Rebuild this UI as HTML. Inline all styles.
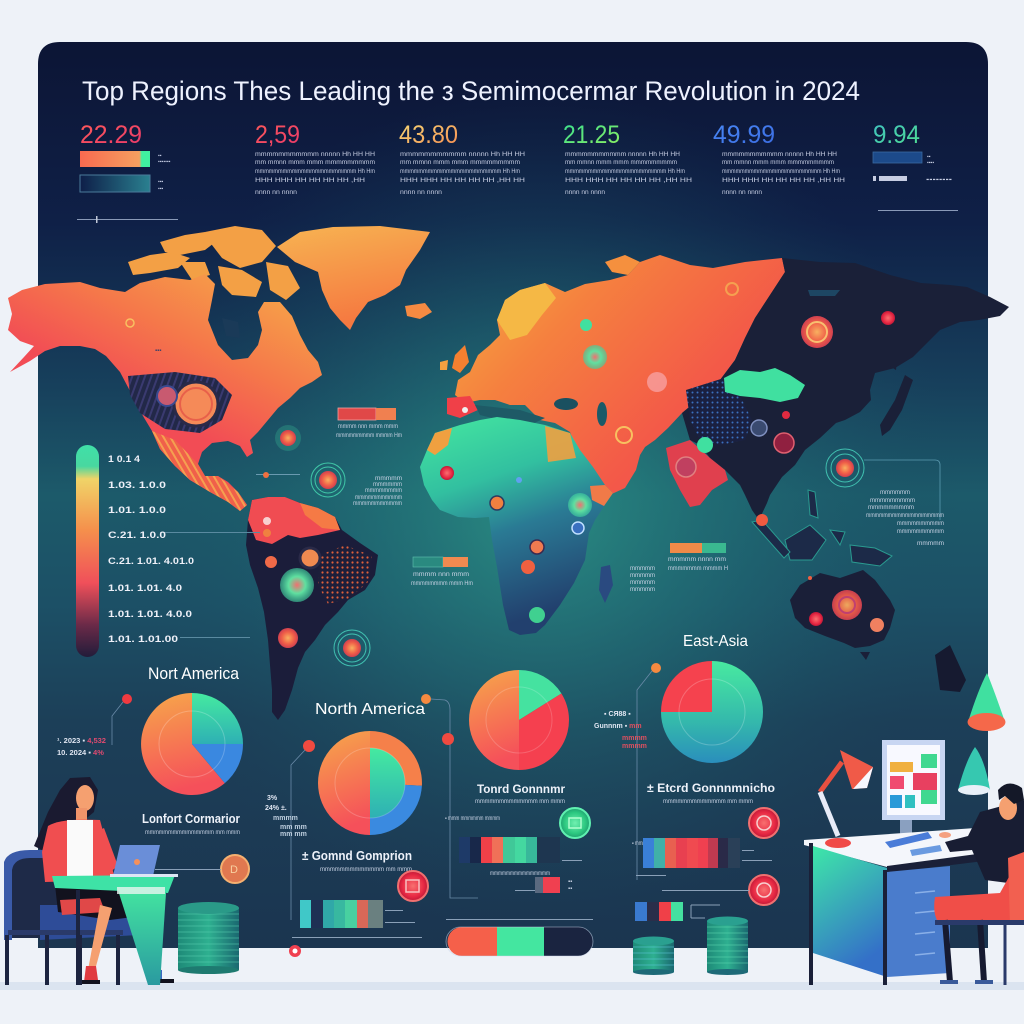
<!DOCTYPE html>
<html><head><meta charset="utf-8">
<style>
html,body{margin:0;padding:0;background:#eef2f8;width:1024px;height:1024px;overflow:hidden}
svg{display:block}
text{font-family:"Liberation Sans",sans-serif}
</style></head><body>
<svg width="1024" height="1024" viewBox="0 0 1024 1024" xmlns="http://www.w3.org/2000/svg">
<defs>
<linearGradient id="pbg" x1="0" y1="0" x2="0" y2="1">
<stop offset="0" stop-color="#0c1535"/>
<stop offset="0.2" stop-color="#0f2047"/>
<stop offset="0.38" stop-color="#17405c"/>
<stop offset="0.5" stop-color="#1c5a6a"/>
<stop offset="0.62" stop-color="#1c5066"/>
<stop offset="0.75" stop-color="#1c3f58"/>
<stop offset="1" stop-color="#1b3550"/>
</linearGradient>
<radialGradient id="glow" cx="540" cy="510" r="420" gradientUnits="userSpaceOnUse">
<stop offset="0" stop-color="#2fa08c" stop-opacity="0.75"/>
<stop offset="0.45" stop-color="#237a7c" stop-opacity="0.45"/>
<stop offset="1" stop-color="#1a4a60" stop-opacity="0"/>
</radialGradient>
<linearGradient id="na" x1="0.85" y1="0" x2="0.25" y2="0.9">
<stop offset="0" stop-color="#f6a848"/>
<stop offset="0.35" stop-color="#f5784a"/>
<stop offset="0.65" stop-color="#f24c55"/>
<stop offset="1" stop-color="#f04a55"/>
</linearGradient>
<linearGradient id="gl" x1="0" y1="0" x2="0.3" y2="1">
<stop offset="0" stop-color="#f7b452"/>
<stop offset="1" stop-color="#f57840"/>
</linearGradient>
<linearGradient id="eu" x1="0" y1="0" x2="1" y2="0.7">
<stop offset="0" stop-color="#f5b040"/>
<stop offset="0.35" stop-color="#f5803f"/>
<stop offset="0.75" stop-color="#f35a48"/>
<stop offset="1" stop-color="#f24852"/>
</linearGradient>
<linearGradient id="af" x1="0" y1="0" x2="0.3" y2="1">
<stop offset="0" stop-color="#45e8a0"/>
<stop offset="0.35" stop-color="#32c0a0"/>
<stop offset="0.6" stop-color="#2a7a94"/>
<stop offset="1" stop-color="#22406e"/>
</linearGradient>
<linearGradient id="leg" x1="0" y1="0" x2="0" y2="1">
<stop offset="0" stop-color="#40e0a8"/>
<stop offset="0.1" stop-color="#48d8a0"/>
<stop offset="0.16" stop-color="#f0d468"/>
<stop offset="0.4" stop-color="#f5904c"/>
<stop offset="0.65" stop-color="#f0505a"/>
<stop offset="0.85" stop-color="#6a2a48"/>
<stop offset="1" stop-color="#221c3a"/>
</linearGradient>
<linearGradient id="og" x1="0" y1="0" x2="0.2" y2="1">
<stop offset="0" stop-color="#f7a84a"/>
<stop offset="1" stop-color="#f5505a"/>
</linearGradient>
<linearGradient id="gg" x1="0" y1="0" x2="0" y2="1">
<stop offset="0" stop-color="#45eaa0"/>
<stop offset="1" stop-color="#2eb0b4"/>
</linearGradient>
<linearGradient id="gg4" x1="0" y1="0" x2="0" y2="1">
<stop offset="0" stop-color="#48eaa0"/>
<stop offset="0.6" stop-color="#34b8ac"/>
<stop offset="1" stop-color="#2a8ebc"/>
</linearGradient>
<linearGradient id="bar1" x1="0" y1="0" x2="1" y2="0">
<stop offset="0" stop-color="#f86a50"/>
<stop offset="0.85" stop-color="#f5a060"/>
<stop offset="0.88" stop-color="#40f0a0"/>
<stop offset="1" stop-color="#40f0a0"/>
</linearGradient>
<linearGradient id="bar2" x1="0" y1="0" x2="1" y2="0">
<stop offset="0" stop-color="#0e1e48"/>
<stop offset="1" stop-color="#2a8090"/>
</linearGradient>
<linearGradient id="n1" x1="0" y1="0" x2="1" y2="1"><stop offset="0" stop-color="#ff5a5a"/><stop offset="1" stop-color="#e8386a"/></linearGradient>
<linearGradient id="n3" x1="0" y1="0" x2="1" y2="1"><stop offset="0" stop-color="#f8dc78"/><stop offset="1" stop-color="#f58a50"/></linearGradient>
<linearGradient id="n4" x1="0" y1="0" x2="1" y2="1"><stop offset="0" stop-color="#38e090"/><stop offset="1" stop-color="#90f060"/></linearGradient>
<linearGradient id="n5" x1="0" y1="0" x2="1" y2="1"><stop offset="0" stop-color="#4a8af8"/><stop offset="1" stop-color="#3a6ae0"/></linearGradient>
<linearGradient id="n6" x1="0" y1="0" x2="1" y2="1"><stop offset="0" stop-color="#40c0c0"/><stop offset="1" stop-color="#50e090"/></linearGradient>
<radialGradient id="mk" cx="0.5" cy="0.5" r="0.5">
<stop offset="0" stop-color="#f8b060"/><stop offset="0.6" stop-color="#f06048"/><stop offset="1" stop-color="#d04050"/>
</radialGradient>
<radialGradient id="mkg" cx="0.5" cy="0.5" r="0.5">
<stop offset="0" stop-color="#f07070"/><stop offset="0.5" stop-color="#60e0a0"/><stop offset="1" stop-color="#40d0a0" stop-opacity="0.6"/>
</radialGradient>
<radialGradient id="mkr" cx="0.5" cy="0.5" r="0.5">
<stop offset="0" stop-color="#f87070"/><stop offset="0.7" stop-color="#e82a44"/><stop offset="1" stop-color="#c01838"/>
</radialGradient>
<radialGradient id="mkgr" cx="0.5" cy="0.5" r="0.5">
<stop offset="0" stop-color="#70f0b0"/><stop offset="0.7" stop-color="#2cc880"/><stop offset="1" stop-color="#20a070"/>
</radialGradient>
<linearGradient id="deskg" x1="0" y1="0" x2="0.4" y2="1">
<stop offset="0" stop-color="#3ee8a8"/><stop offset="1" stop-color="#3470c8"/>
</linearGradient>
<linearGradient id="deskl" x1="0" y1="0" x2="0" y2="1">
<stop offset="0" stop-color="#44e6a0"/><stop offset="1" stop-color="#2a9aa0"/>
</linearGradient>
<linearGradient id="coin" x1="0" y1="0" x2="1" y2="0">
<stop offset="0" stop-color="#1e8a78"/><stop offset="0.5" stop-color="#2eb090"/><stop offset="1" stop-color="#1a6870"/>
</linearGradient>
<pattern id="dots" width="5" height="5" patternUnits="userSpaceOnUse">
<rect width="5" height="5" fill="#1c1e3a"/><circle cx="2.5" cy="2.5" r="1.1" fill="#e0603a"/>
</pattern>
<pattern id="bdots" width="5" height="5" patternUnits="userSpaceOnUse">
<rect width="5" height="5" fill="#1a2040"/><circle cx="2.5" cy="2.5" r="1" fill="#3a70c0"/>
</pattern>
<pattern id="stripes" width="6" height="6" patternUnits="userSpaceOnUse" patternTransform="rotate(20)">
<rect width="6" height="6" fill="#222848"/><rect width="2" height="6" fill="#3a3a70"/>
</pattern>
<pattern id="ostr" width="6" height="6" patternUnits="userSpaceOnUse" patternTransform="rotate(-30)">
<rect width="6" height="6" fill="#f0604a"/><rect width="2" height="6" fill="#f5a050"/>
</pattern>
</defs>

<!-- page bg -->
<rect x="0" y="0" width="1024" height="1024" fill="#eef2f8"/>
<rect x="0" y="982" width="1024" height="8" fill="#dbe4f0"/>

<!-- panel -->
<path d="M38,948 L38,64 Q38,42 60,42 L966,42 Q988,42 988,64 L988,948 Z" fill="url(#pbg)"/>
<path d="M38,948 L38,64 Q38,42 60,42 L966,42 Q988,42 988,64 L988,948 Z" fill="url(#glow)"/>

<!-- title -->
<text x="82" y="100" font-size="27" fill="#eef2ff" textLength="778" lengthAdjust="spacingAndGlyphs">Top Regions Thes Leading the з Semimocermar Revolution in 2024</text>

<!-- stats -->
<text x="80" y="143" font-size="25" fill="url(#n1)" textLength="62" lengthAdjust="spacingAndGlyphs">22.29</text>
<rect x="80" y="151" width="70" height="16" fill="url(#bar1)"/>
<rect x="80" y="175" width="70" height="17" fill="url(#bar2)" stroke="#4a7a9a" stroke-width="1"/>
<text x="158" y="157" font-size="5" fill="#c0c8e0">▪▪</text>
<text x="158" y="163" font-size="5" fill="#c0c8e0">▪▪▪▪▪▪▪</text>
<text x="158" y="183" font-size="5" fill="#c0c8e0">▪▪▪</text>
<text x="158" y="190" font-size="5" fill="#c0c8e0">▪▪▪</text>

<g font-size="6.5" fill="#c6cde2">
<text x="255" y="143" font-size="25" fill="url(#n1)" textLength="45" lengthAdjust="spacingAndGlyphs">2,59</text>
<text x="255" y="156" textLength="120" lengthAdjust="spacingAndGlyphs">mmmmmmmmmmm nnnnn Hh HH HH</text>
<text x="255" y="164" textLength="120" lengthAdjust="spacingAndGlyphs">mm mmnn mmm mmm mmmmmmmmm</text>
<text x="255" y="173" textLength="120" lengthAdjust="spacingAndGlyphs">mmmmmmmmmmmmmmmmmmmmmm Hh Hm</text>
<text x="255" y="182" textLength="110" lengthAdjust="spacingAndGlyphs">HHH HHH HH HH HH HH ,HH</text>
<text x="255" y="194" textLength="42" lengthAdjust="spacingAndGlyphs">nnnn nn nnnn</text>

<text x="399" y="143" font-size="25" fill="url(#n3)" textLength="59" lengthAdjust="spacingAndGlyphs">43.80</text>
<text x="400" y="156" textLength="125" lengthAdjust="spacingAndGlyphs">mmmmmmmmmmm nnnnn Hh HH HH</text>
<text x="400" y="164" textLength="120" lengthAdjust="spacingAndGlyphs">mm mmnn mmm mmm mmmmmmmmm</text>
<text x="400" y="173" textLength="120" lengthAdjust="spacingAndGlyphs">mmmmmmmmmmmmmmmmmmmmmm Hh Hm</text>
<text x="400" y="182" textLength="125" lengthAdjust="spacingAndGlyphs">HHH HHH HH HH HH HH ,HH HH</text>
<text x="400" y="194" textLength="42" lengthAdjust="spacingAndGlyphs">nnnn nn nnnn</text>

<text x="563" y="143" font-size="25" fill="url(#n4)" textLength="57" lengthAdjust="spacingAndGlyphs">21.25</text>
<text x="565" y="156" textLength="115" lengthAdjust="spacingAndGlyphs">mmmmmmmmmmm nnnnn Hh HH HH</text>
<text x="565" y="164" textLength="112" lengthAdjust="spacingAndGlyphs">mm mmnn mmm mmm mmmmmmmmm</text>
<text x="565" y="173" textLength="120" lengthAdjust="spacingAndGlyphs">mmmmmmmmmmmmmmmmmmmmmm Hh Hm</text>
<text x="565" y="182" textLength="127" lengthAdjust="spacingAndGlyphs">HHH HHH HH HH HH HH ,HH HH</text>
<text x="565" y="194" textLength="40" lengthAdjust="spacingAndGlyphs">nnnn nn nnnn</text>

<text x="713" y="143" font-size="25" fill="url(#n5)" textLength="62" lengthAdjust="spacingAndGlyphs">49.99</text>
<text x="722" y="156" textLength="115" lengthAdjust="spacingAndGlyphs">mmmmmmmmmmm nnnnn Hh HH HH</text>
<text x="722" y="164" textLength="112" lengthAdjust="spacingAndGlyphs">mm mmnn mmm mmm mmmmmmmmm</text>
<text x="722" y="173" textLength="118" lengthAdjust="spacingAndGlyphs">mmmmmmmmmmmmmmmmmmmmmm Hh Hm</text>
<text x="722" y="182" textLength="123" lengthAdjust="spacingAndGlyphs">HHH HHH HH HH HH HH ,HH HH</text>
<text x="722" y="194" textLength="40" lengthAdjust="spacingAndGlyphs">nnnn nn nnnn</text>

<text x="873" y="143" font-size="25" fill="url(#n6)" textLength="47" lengthAdjust="spacingAndGlyphs">9.94</text>
<rect x="873" y="152" width="49" height="11" fill="#1c4a8a" stroke="#3a6aa0" stroke-width="0.8"/>
<rect x="873" y="176" width="3" height="5" fill="#c6cde2"/>
<rect x="879" y="176" width="28" height="5" fill="#c6cde2"/>
<text x="927" y="158" font-size="5">▪▪</text>
<text x="927" y="164" font-size="5">▪▪▪▪</text>
<text x="926" y="181" font-size="5" textLength="26" lengthAdjust="spacingAndGlyphs">▪▪▪▪▪▪▪▪</text>
</g>
<rect x="77" y="219" width="101" height="1" fill="#8a9ab8"/>
<rect x="96" y="216" width="1.5" height="7" fill="#c0c8d8"/>
<rect x="878" y="210" width="80" height="1" fill="#8a9ab8"/>

<!-- ===== MAP ===== -->
<!-- Canadian arctic islands -->
<g fill="#f3a045">
<path d="M128,262 L150,255 L172,252 L190,258 L178,268 L150,273 L133,275 Z"/>
<path d="M160,242 L185,235 L205,232 L218,240 L205,250 L180,255 L165,252 Z"/>
<path d="M205,232 L235,226 L262,230 L276,246 L262,262 L240,268 L222,258 L212,245 Z"/>
<path d="M218,266 L242,270 L262,282 L256,297 L232,295 L222,285 Z"/>
<path d="M266,262 L288,266 L300,288 L286,300 L270,290 Z"/>
<path d="M180,262 L205,262 L210,275 L192,280 Z"/>
</g>
<!-- North America -->
<path d="M8,298 L22,290 L45,284 L80,282 L100,288 L125,292 L140,283 L165,277 L190,280 L205,274 L215,284 L212,300 L208,320 L218,345 L232,360 L248,358 L258,345 L262,330 L258,312 L264,302 L280,302 L292,316 L300,335 L308,350 L318,362 L322,375 L312,382 L300,388 L290,398 L278,408 L268,420 L258,432 L250,440 L253,453 L247,457 L240,446 L228,441 L212,443 L202,452 L198,464 L205,476 L218,476 L228,482 L238,492 L247,505 L240,511 L228,502 L210,492 L190,480 L175,466 L160,449 L152,431 L140,411 L130,391 L120,372 L106,356 L95,349 L80,346 L60,346 L45,351 L30,361 L10,372 L24,357 L34,346 L20,341 L8,330 L12,314 Z" fill="url(#na)"/>
<!-- Hudson bay islands -->
<path d="M222,318 L238,322 L240,338 L226,336 Z" fill="#1a3a58"/>
<!-- US dark patterned patch -->
<path d="M128,376 L175,372 L215,378 L232,395 L222,420 L200,433 L165,429 L140,413 L130,395 Z" fill="url(#stripes)"/>
<circle cx="196" cy="404" r="22" fill="#f58a58" stroke="#2a2a48" stroke-width="3"/>
<circle cx="196" cy="404" r="16" fill="none" stroke="#e8604a" stroke-width="2"/>
<circle cx="167" cy="396" r="10" fill="#c85a70" stroke="#3a4a90" stroke-width="2"/>
<!-- Mexico stripes -->
<path d="M152,431 L175,440 L198,464 L205,476 L218,476 L238,492 L247,505 L240,511 L228,502 L210,492 L190,480 L175,466 L160,449 Z" fill="url(#ostr)"/>
<circle cx="130" cy="323" r="4" fill="none" stroke="#f8c060" stroke-width="1.5"/>
<text x="155" y="352" font-size="6" fill="#40406a">▪▪▪</text>
<!-- Greenland -->
<path d="M277,247 L300,232 L333,227 L380,226 L430,232 L420,250 L406,270 L400,285 L385,295 L368,302 L356,318 L350,330 L340,320 L330,308 L322,290 L318,272 L295,262 Z" fill="url(#gl)"/>
<path d="M405,306 L425,303 L432,312 L420,319 L407,316 Z" fill="#f58a42"/>

<!-- South America -->
<path d="M252,500 L268,497 L285,497 L300,503 L318,508 L335,517 L342,530 L360,543 L378,555 L375,575 L365,590 L348,600 L338,612 L325,625 L315,640 L305,652 L298,668 L292,690 L285,710 L278,720 L272,712 L272,690 L270,665 L268,640 L264,612 L258,588 L250,565 L246,545 L248,520 Z" fill="#1b1d3a"/>
<path d="M320,555 L345,545 L372,556 L368,582 L350,598 L328,604 L318,585 Z" fill="url(#dots)"/>
<path d="M252,500 L268,497 L285,497 L300,503 L318,508 L335,517 L340,530 L318,535 L300,538 L288,535 L272,544 L256,540 L248,520 Z" fill="#f04c52"/>
<path d="M300,503 L318,508 L335,517 L340,530 L322,528 L305,515 Z" fill="#f57a45"/>
<circle cx="310" cy="558" r="10" fill="#f08a50" stroke="#2a2a48" stroke-width="3"/>
<circle cx="271" cy="562" r="6" fill="#f06a48"/>
<circle cx="297" cy="585" r="17" fill="url(#mkg)"/>
<circle cx="288" cy="638" r="10" fill="url(#mk)"/>
<circle cx="267" cy="521" r="4" fill="#f8d0d0"/>
<g fill="none" stroke="#40c0b0" stroke-width="1">
<circle cx="352" cy="648" r="18"/><circle cx="352" cy="648" r="14"/>
</g>
<circle cx="352" cy="648" r="9" fill="url(#mk)"/>

<!-- Eurasia -->
<path d="M470,372 L478,355 L490,345 L500,335 L497,320 L505,300 L520,290 L545,283 L565,292 L585,284 L610,280 L628,275 L640,262 L660,255 L690,265 L713,268 L745,262 L782,258 L785,272 L770,295 L755,318 L745,338 L735,360 L720,380 L700,398 L682,413 L668,428 L655,440 L645,447 L640,455 L636,470 L625,488 L605,497 L590,485 L580,465 L575,445 L570,432 L555,423 L540,420 L525,405 L510,405 L495,400 L480,400 L465,403 L455,395 L458,380 Z" fill="url(#eu)"/>
<path d="M497,320 L505,300 L520,290 L545,283 L556,298 L542,315 L527,335 L510,340 Z" fill="#f5b845"/>
<path d="M605,262 L625,255 L640,262 L628,275 L612,272 Z" fill="#f5903e"/>
<path d="M455,355 L465,345 L469,362 L460,373 L452,368 Z" fill="#f58030"/>
<path d="M440,362 L448,360 L447,370 L440,370 Z" fill="#f5a040"/>
<path d="M447,398 L470,396 L478,410 L460,418 L447,414 Z" fill="#f04048"/>
<ellipse cx="566" cy="404" rx="12" ry="6" fill="#1a5060"/>
<ellipse cx="602" cy="414" rx="5" ry="12" fill="#1a5a68"/>
<path d="M475,405 L520,410 L545,418 L530,425 L500,420 L480,415 Z" fill="#1e5a66"/>
<!-- East Asia dark -->
<path d="M782,258 L820,262 L855,263 L890,275 L921,283 L950,285 L967,287 L990,297 L1009,307 L1000,316 L979,320 L960,322 L940,330 L925,345 L913,357 L895,368 L875,373 L870,390 L871,400 L860,412 L845,420 L836,423 L820,438 L805,450 L795,465 L782,477 L770,495 L767,503 L759,520 L752,510 L745,495 L740,485 L725,470 L710,458 L700,445 L690,440 L682,413 L700,398 L720,380 L735,360 L745,338 L755,318 L770,295 L785,272 Z" fill="#1a2038"/>
<path d="M686,390 L724,378 L740,396 L752,420 L745,440 L720,445 L700,440 L690,420 Z" fill="url(#bdots)"/>
<path d="M724,378 L740,370 L760,372 L775,368 L790,375 L805,385 L798,398 L780,402 L760,398 L740,396 L725,392 Z" fill="#40e0a0"/>
<path d="M666,448 L690,440 L710,458 L725,470 L728,480 L712,490 L700,505 L690,507 L680,490 L670,470 Z" fill="#e0404e"/>
<path d="M905,375 L913,380 L902,410 L890,430 L882,436 L880,425 L895,400 Z" fill="#1a2038"/>
<path d="M890,330 L900,335 L896,370 L888,365 Z" fill="#1a2038"/>
<path d="M808,290 L840,290 L835,296 L810,296 Z" fill="#1f6080" opacity="0.6"/>
<!-- SE Asia islands -->
<g fill="#1c2a48" stroke="#2a9a90" stroke-width="1">
<path d="M785,540 L810,525 L826,540 L812,560 L790,560 Z"/>
<path d="M752,522 L762,520 L790,552 L784,558 Z"/>
<path d="M850,545 L875,548 L892,556 L880,566 L852,562 Z"/>
<path d="M808,490 L815,492 L818,518 L810,515 Z"/>
<path d="M830,530 L845,532 L840,545 Z"/>
</g>
<!-- Africa -->
<path d="M420,467 L427,450 L435,433 L460,425 L480,420 L497,417 L520,420 L545,425 L570,433 L580,450 L593,467 L605,485 L613,493 L605,505 L595,520 L589,533 L585,560 L574,583 L560,605 L545,625 L536,633 L520,635 L509,630 L503,605 L497,567 L492,540 L489,517 L475,518 L458,517 L440,510 L432,500 L424,485 Z" fill="url(#af)"/>
<path d="M427,450 L435,433 L452,428 L448,445 L435,455 Z" fill="#f0a040"/>
<path d="M545,426 L570,433 L576,458 L548,462 Z" fill="#f0a040" opacity="0.9"/>
<path d="M590,486 L605,485 L613,493 L604,506 L592,500 Z" fill="#f07a48"/>
<path d="M601,567 L610,565 L613,585 L605,603 L599,590 Z" fill="#2a4a80"/>
<!-- Australia -->
<path d="M790,600 L800,585 L820,573 L840,578 L863,570 L875,580 L890,600 L895,610 L890,628 L884,640 L870,646 L855,648 L844,643 L825,636 L805,628 L795,618 Z" fill="#1a1f38"/>
<path d="M860,652 L870,652 L866,660 Z" fill="#1a1f38"/>
<path d="M935,655 L950,645 L966,680 L960,692 L940,690 Z" fill="#161a30"/>

<!-- map markers -->
<circle cx="288" cy="438" r="13" fill="#40d0a0" opacity="0.25"/>
<circle cx="288" cy="438" r="8" fill="url(#mk)"/>
<g fill="none" stroke="#40c8a8" stroke-width="1"><circle cx="328" cy="480" r="17"/><circle cx="328" cy="480" r="13"/></g>
<circle cx="328" cy="480" r="9" fill="url(#mk)"/>
<rect x="256" y="474" width="44" height="1" fill="#6a9ab0"/>
<circle cx="266" cy="475" r="3" fill="#f07040"/>
<rect x="160" y="532" width="100" height="1" fill="#5a8aa0"/>
<circle cx="267" cy="533" r="4" fill="#f08040"/>
<circle cx="595" cy="357" r="12" fill="url(#mkg)"/>
<circle cx="586" cy="325" r="6" fill="#40e0a0"/>
<circle cx="732" cy="289" r="6" fill="none" stroke="#f5a050" stroke-width="2"/>
<circle cx="817" cy="332" r="16" fill="url(#mk)"/>
<circle cx="817" cy="332" r="10" fill="none" stroke="#f8c070" stroke-width="2"/>
<circle cx="888" cy="318" r="7" fill="url(#mkr)"/>
<circle cx="657" cy="382" r="10" fill="#f8a0a0" opacity="0.8"/>
<circle cx="624" cy="435" r="8" fill="none" stroke="#f8c060" stroke-width="2"/>
<circle cx="686" cy="467" r="10" fill="#c04060" stroke="#e08080" stroke-width="1.5"/>
<circle cx="705" cy="445" r="8" fill="#40e0a0"/>
<circle cx="759" cy="428" r="8" fill="#3a4a70" stroke="#8090c0" stroke-width="1.5"/>
<circle cx="784" cy="443" r="10" fill="#902040" stroke="#e06070" stroke-width="1.5"/>
<circle cx="786" cy="415" r="4" fill="#e02a40"/>
<g fill="none" stroke="#40c0b0" stroke-width="1"><circle cx="845" cy="468" r="19"/><circle cx="845" cy="468" r="14"/></g>
<circle cx="845" cy="468" r="9" fill="url(#mk)"/>
<path d="M864,460 L935,460 Q940,460 940,465 L940,520" fill="none" stroke="#5a9ab0" stroke-width="0.8"/>
<circle cx="447" cy="473" r="7" fill="url(#mkr)"/>
<circle cx="497" cy="503" r="7" fill="#f08040" stroke="#2a3a60" stroke-width="1.5"/>
<circle cx="580" cy="505" r="12" fill="url(#mkg)"/>
<circle cx="537" cy="547" r="7" fill="#f07a50" stroke="#3a2a50" stroke-width="1.5"/>
<circle cx="528" cy="567" r="7" fill="#f06040"/>
<circle cx="537" cy="615" r="8" fill="#40d090"/>
<circle cx="578" cy="528" r="6" fill="#3a70c0" stroke="#c0e0ff" stroke-width="1.5"/>
<circle cx="519" cy="480" r="3" fill="#60a0f0"/>
<circle cx="465" cy="410" r="3" fill="#f0f0f0"/>
<circle cx="762" cy="520" r="6" fill="#f05a40"/>
<circle cx="847" cy="605" r="15" fill="url(#mk)" opacity="0.95"/>
<circle cx="847" cy="605" r="8" fill="none" stroke="#c04070" stroke-width="2"/>
<circle cx="816" cy="619" r="7" fill="url(#mkr)"/>
<circle cx="877" cy="625" r="7" fill="#f08060"/>
<circle cx="810" cy="578" r="2" fill="#f06040"/>

<!-- map labels -->
<rect x="338" y="408" width="38" height="12" fill="#e04848" stroke="#f0a0a0" stroke-width="0.8"/>
<rect x="376" y="408" width="20" height="12" fill="#f08050"/>
<g font-size="6" fill="#c8d2e4">
<text x="338" y="428" textLength="60" lengthAdjust="spacingAndGlyphs">mmmm nnn mmm mmm</text>
<text x="336" y="437" textLength="66" lengthAdjust="spacingAndGlyphs">mmmmmmmmm mmmm Hm</text>
<text x="375" y="480" textLength="27" lengthAdjust="spacingAndGlyphs">mmmmm</text>
<text x="373" y="486" textLength="29" lengthAdjust="spacingAndGlyphs">mmmmmm</text>
<text x="365" y="492" textLength="37" lengthAdjust="spacingAndGlyphs">mmmmmmmm</text>
<text x="355" y="499" textLength="47" lengthAdjust="spacingAndGlyphs">mmmmmmmmmmm</text>
<text x="353" y="505" textLength="49" lengthAdjust="spacingAndGlyphs">mmmmmmmmmmm</text>
<text x="413" y="576" textLength="56" lengthAdjust="spacingAndGlyphs">mmmm nnn mmm</text>
<text x="411" y="585" textLength="62" lengthAdjust="spacingAndGlyphs">mmmmmmmm mmm Hm</text>
<text x="630" y="570" textLength="25" lengthAdjust="spacingAndGlyphs">mmmmm</text>
<text x="630" y="577" textLength="25" lengthAdjust="spacingAndGlyphs">mmmmm</text>
<text x="630" y="584" textLength="25" lengthAdjust="spacingAndGlyphs">mmmmm</text>
<text x="630" y="591" textLength="25" lengthAdjust="spacingAndGlyphs">mmmmm</text>
<text x="668" y="561" textLength="58" lengthAdjust="spacingAndGlyphs">mmmmm nnnn mm</text>
<text x="668" y="570" textLength="60" lengthAdjust="spacingAndGlyphs">mmmmmmm mmmm H</text>
<text x="880" y="494" textLength="30" lengthAdjust="spacingAndGlyphs">mmmmmm</text>
<text x="870" y="502" textLength="45" lengthAdjust="spacingAndGlyphs">mmmmmmmmm</text>
<text x="868" y="509" textLength="46" lengthAdjust="spacingAndGlyphs">mmmmmmmmm</text>
<text x="866" y="517" textLength="78" lengthAdjust="spacingAndGlyphs">mmmmmmmmmmmmmmmmmm</text>
<text x="897" y="525" textLength="47" lengthAdjust="spacingAndGlyphs">mmmmmmmmmm</text>
<text x="897" y="533" textLength="47" lengthAdjust="spacingAndGlyphs">mmmmmmmmmm</text>
<text x="917" y="545" textLength="27" lengthAdjust="spacingAndGlyphs">mmmmm</text>
</g>
<rect x="413" y="557" width="30" height="10" fill="#2a8a80" stroke="#60c0b0" stroke-width="0.6"/>
<rect x="443" y="557" width="25" height="10" fill="#f08a50"/>
<rect x="670" y="543" width="32" height="10" fill="#f08a48"/>
<rect x="702" y="543" width="24" height="10" fill="#3ab890"/>

<!-- legend bar -->
<rect x="76" y="445" width="23" height="212" rx="11.5" fill="url(#leg)"/>
<g font-size="9" font-weight="bold" fill="#eef0f8">
<text x="108" y="462" textLength="32" lengthAdjust="spacingAndGlyphs">1 0.1 4</text>
<text x="108" y="488" textLength="58" lengthAdjust="spacingAndGlyphs">1.03. 1.0.0</text>
<text x="108" y="513" textLength="58" lengthAdjust="spacingAndGlyphs">1.01. 1.0.0</text>
<text x="108" y="538" textLength="58" lengthAdjust="spacingAndGlyphs">C.21. 1.0.0</text>
<text x="108" y="564" textLength="86" lengthAdjust="spacingAndGlyphs">C.21. 1.01. 4.01.0</text>
<text x="108" y="591" textLength="74" lengthAdjust="spacingAndGlyphs">1.01. 1.01. 4.0</text>
<text x="108" y="617" textLength="84" lengthAdjust="spacingAndGlyphs">1.01. 1.01. 4.0.0</text>
<text x="108" y="642" textLength="70" lengthAdjust="spacingAndGlyphs">1.01. 1.01.00</text>
</g>
<rect x="180" y="637" width="70" height="1" fill="#5a8aa0"/>

<!-- ===== PIES ===== -->
<!-- pie 1 -->
<path d="M192,744 L224.8,783.1 A51,51 0 1 1 192,693 Z" fill="url(#og)"/>
<path d="M192,744 L192,693 A51,51 0 0 1 243,744 Z" fill="url(#gg)"/>
<path d="M192,744 L243,744 A51,51 0 0 1 224.8,783.1 Z" fill="#3a88e0"/>
<circle cx="192" cy="744" r="33" fill="none" stroke="#ffffff" stroke-opacity="0.22" stroke-width="1"/>
<text x="148" y="679" font-size="17" fill="#ffffff" textLength="91" lengthAdjust="spacingAndGlyphs">Nort America</text>
<circle cx="127" cy="699" r="5" fill="#f03a40"/>
<path d="M123,702 L112,716 L112,745" fill="none" stroke="#6a8aa8" stroke-width="0.8"/>
<g font-size="7.5" font-weight="bold" fill="#e0e6f2">
<text x="57" y="743">¹. 2023 ▪ <tspan fill="#e04a70">4,532</tspan></text>
<text x="57" y="755">10. 2024 ▪ <tspan fill="#e04a70">4%</tspan></text>
</g>

<!-- pie 2 -->
<path d="M370,783 L370,835 A52,52 0 0 1 370,731 Z" fill="url(#og)"/>
<path d="M370,783 L370,731 A52,52 0 0 1 421.9,785.7 Z" fill="#f5804a"/>
<path d="M370,783 L421.9,785.7 A52,52 0 0 1 370,835 Z" fill="#3a8ae0"/>
<path d="M370,748 A35,35 0 0 1 370,818 Z" fill="url(#gg)"/>
<circle cx="370" cy="783" r="35" fill="none" stroke="#ffffff" stroke-opacity="0.2" stroke-width="1"/>
<text x="315" y="714" font-size="16" fill="#ffffff" textLength="110" lengthAdjust="spacingAndGlyphs">North America</text>
<circle cx="426" cy="699" r="5" fill="#f58a40"/>
<path d="M431,699 L445,700 Q450,702 450,710 L450,898 L478,898" fill="none" stroke="#6a8aa8" stroke-width="0.8"/>
<circle cx="309" cy="746" r="6" fill="#f04a40"/>
<path d="M305,750 L291,765 L291,920" fill="none" stroke="#6a8aa8" stroke-width="0.8"/>
<g font-size="7" font-weight="bold" fill="#e0e6f2">
<text x="267" y="800">3%</text>
<text x="265" y="810">24% ±.</text>
<text x="273" y="820" fill="#c0d0e0">mmmm</text>
<text x="280" y="829" fill="#c0d0e0">mm mm</text>
<text x="280" y="836" fill="#c0d0e0">mm mm</text>
</g>

<!-- pie 3 -->
<path d="M519,720 L519,770 A50,50 0 0 1 519,670 Z" fill="url(#og)"/>
<path d="M519,720 L519,670 A50,50 0 0 1 561.4,693.5 Z" fill="#45e2a0"/>
<path d="M519,720 L561.4,693.5 A50,50 0 0 1 519,770 Z" fill="#f5404f"/>
<circle cx="519" cy="720" r="33" fill="none" stroke="#ffffff" stroke-opacity="0.18" stroke-width="1"/>
<circle cx="448" cy="739" r="6" fill="#f04a40"/>

<!-- pie 4 -->
<path d="M712,712 L712,661 A51,51 0 1 1 661,712 Z" fill="url(#gg4)"/>
<path d="M712,712 L661,712 A51,51 0 0 1 712,661 Z" fill="#f5424e"/>
<circle cx="712" cy="712" r="33" fill="none" stroke="#ffffff" stroke-opacity="0.22" stroke-width="1"/>
<text x="683" y="646" font-size="16" fill="#ffffff" textLength="65" lengthAdjust="spacingAndGlyphs">East-Asia</text>
<circle cx="656" cy="668" r="5" fill="#f58a40"/>
<path d="M652,671 L637,690 L637,880" fill="none" stroke="#6a8aa8" stroke-width="0.8"/>
<g font-size="7" font-weight="bold" fill="#e0e6f2">
<text x="604" y="716">▪ <tspan>CЯ88 ▪</tspan></text>
<text x="594" y="728">Gunnnm ▪ <tspan fill="#e05060">mm</tspan></text>
<text x="622" y="740" fill="#e05060">mmmm</text>
<text x="622" y="748" fill="#e05060">mmmm</text>
</g>

<!-- sub labels -->
<g font-weight="bold" fill="#eef2fa">
<text x="142" y="823" font-size="13" textLength="98" lengthAdjust="spacingAndGlyphs">Lonfort Cormarior</text>
<text x="302" y="860" font-size="13" textLength="110" lengthAdjust="spacingAndGlyphs">± Gomnd Gomprion</text>
<text x="477" y="793" font-size="12" textLength="88" lengthAdjust="spacingAndGlyphs">Tonrd Gonnnmr</text>
<text x="647" y="792" font-size="12" textLength="128" lengthAdjust="spacingAndGlyphs">± Etcrd Gonnnmnicho</text>
</g>
<g font-size="6" fill="#c8d2e4">
<text x="145" y="834" textLength="95" lengthAdjust="spacingAndGlyphs">mmmmmmmmmmmmmmm mm mmm</text>
<text x="320" y="871" textLength="92" lengthAdjust="spacingAndGlyphs">mmmmmmmmmmmmm mm mmm</text>
<text x="475" y="803" textLength="90" lengthAdjust="spacingAndGlyphs">mmmmmmmmmmmmm mm mmm</text>
<text x="663" y="803" textLength="90" lengthAdjust="spacingAndGlyphs">mmmmmmmmmmmmm mm mmm</text>
<text x="445" y="820" textLength="55" lengthAdjust="spacingAndGlyphs">▪ mmm mmmmmm mmmm</text>
<text x="632" y="845" textLength="55" lengthAdjust="spacingAndGlyphs">▪ mmm mmmmmm mmmm</text>
<text x="490" y="875" textLength="60" lengthAdjust="spacingAndGlyphs">mmmmmmmmmmmmmmm</text>
<text x="568" y="883">▪▪</text>
<text x="568" y="890">▪▪</text>
</g>

<!-- icon circles -->
<circle cx="235" cy="869" r="14" fill="#e07850" stroke="#f5b070" stroke-width="2"/>
<text x="230" y="873" font-size="11" fill="#f8d0a0">D</text>
<rect x="155" y="869" width="66" height="1" fill="#8aa0b8"/>
<circle cx="575" cy="823" r="15" fill="url(#mkgr)" stroke="#60f0b0" stroke-width="2"/>
<rect x="569" y="818" width="12" height="10" fill="none" stroke="#b0ffd0" stroke-width="1.5"/>
<circle cx="413" cy="886" r="15" fill="url(#mkr)" stroke="#f07070" stroke-width="2"/>
<rect x="406" y="880" width="13" height="12" fill="none" stroke="#f8c0c0" stroke-width="1.5"/>
<circle cx="764" cy="823" r="15" fill="url(#mkr)" stroke="#f07070" stroke-width="2"/>
<circle cx="764" cy="823" r="7" fill="none" stroke="#f8d0d0" stroke-width="1.5"/>
<circle cx="764" cy="890" r="15" fill="url(#mkr)" stroke="#f07070" stroke-width="2"/>
<circle cx="764" cy="890" r="7" fill="none" stroke="#f8d0d0" stroke-width="1.5"/>
<rect x="662" y="890" width="87" height="1" fill="#8aa0b8"/>
<circle cx="295" cy="951" r="6" fill="#f04050"/>
<circle cx="295" cy="951" r="2.5" fill="#ffffff"/>

<!-- bar blocks -->
<g>
<rect x="459" y="837" width="11" height="26" fill="#1e3a68"/>
<rect x="470" y="837" width="11" height="26" fill="#18284a"/>
<rect x="481" y="837" width="11" height="26" fill="#f04048"/>
<rect x="492" y="837" width="11" height="26" fill="#f07058"/>
<rect x="503" y="837" width="12" height="26" fill="#40c898"/>
<rect x="515" y="837" width="11" height="26" fill="#44d8a0"/>
<rect x="526" y="837" width="11" height="26" fill="#38b89a"/>
<rect x="537" y="837" width="23" height="26" fill="#1e3650"/>
<rect x="562" y="860" width="20" height="1" fill="#8aa0b8"/>
<rect x="535" y="877" width="8" height="16" fill="#5a6a80"/>
<rect x="543" y="877" width="17" height="16" fill="#f04050"/>
<rect x="515" y="890" width="20" height="1" fill="#8aa0b8"/>

<rect x="643" y="838" width="11" height="30" fill="#3a80d8"/>
<rect x="654" y="838" width="11" height="30" fill="#40b0a8"/>
<rect x="665" y="838" width="11" height="30" fill="#e86050"/>
<rect x="676" y="838" width="11" height="30" fill="#e84050"/>
<rect x="687" y="838" width="11" height="30" fill="#f04a50"/>
<rect x="698" y="838" width="10" height="30" fill="#f04050"/>
<rect x="708" y="838" width="10" height="30" fill="#c03a50"/>
<rect x="718" y="838" width="10" height="30" fill="#2a2a48"/>
<rect x="728" y="838" width="12" height="30" fill="#2a4058"/>
<rect x="742" y="850" width="12" height="1" fill="#8aa0b8"/>
<rect x="742" y="860" width="30" height="1" fill="#8aa0b8"/>
<rect x="636" y="875" width="30" height="1" fill="#8aa0b8"/>

<rect x="635" y="902" width="12" height="19" fill="#3a7ad0"/>
<rect x="647" y="902" width="12" height="19" fill="#2a2e4a"/>
<rect x="659" y="902" width="12" height="19" fill="#f04048"/>
<rect x="671" y="902" width="12" height="19" fill="#44e0a0"/>
<path d="M691,905 L720,905 M691,905 L691,918 M691,918 L705,918" fill="none" stroke="#8aa0b8" stroke-width="1"/>

<rect x="300" y="900" width="11" height="28" fill="#40c8c8"/>
<rect x="311" y="900" width="12" height="28" fill="#1e3054"/>
<rect x="323" y="900" width="11" height="28" fill="#30a8a8"/>
<rect x="334" y="900" width="11" height="28" fill="#38b8a0"/>
<rect x="345" y="900" width="12" height="28" fill="#48d0a0"/>
<rect x="357" y="900" width="11" height="28" fill="#d86858"/>
<rect x="368" y="900" width="15" height="28" fill="#6a8080"/>
<rect x="385" y="910" width="18" height="1" fill="#8aa0b8"/>
<rect x="385" y="922" width="30" height="1" fill="#8aa0b8"/>
<rect x="292" y="937" width="130" height="1" fill="#8aa0b8"/>
<rect x="446" y="919" width="147" height="1" fill="#8aa0b8"/>
</g>

<!-- pill -->
<path d="M462,927 L497,927 L497,956 L462,956 A14.5,14.5 0 0 1 462,927 Z" fill="#f5604a"/>
<rect x="497" y="927" width="47" height="29" fill="#44e6a0"/>
<path d="M544,927 L578,927 A14.5,14.5 0 0 1 578,956 L544,956 Z" fill="#1a2440"/>
<rect x="446" y="927" width="147" height="29" rx="14.5" fill="none" stroke="#c8d4e8" stroke-width="0.8" stroke-opacity="0.6"/>

<!-- coins -->
<g>
<rect x="178" y="908" width="61" height="62" fill="url(#coin)"/>
<g stroke="#5ad0b0" stroke-width="0.8" stroke-opacity="0.7">
<line x1="178" y1="914" x2="239" y2="914"/><line x1="178" y1="920" x2="239" y2="920"/><line x1="178" y1="926" x2="239" y2="926"/>
<line x1="178" y1="932" x2="239" y2="932"/><line x1="178" y1="938" x2="239" y2="938"/><line x1="178" y1="944" x2="239" y2="944"/>
<line x1="178" y1="950" x2="239" y2="950"/><line x1="178" y1="956" x2="239" y2="956"/><line x1="178" y1="962" x2="239" y2="962"/>
</g>
<ellipse cx="208.5" cy="970" rx="30.5" ry="4" fill="#1e7a70"/>
<ellipse cx="208.5" cy="908" rx="30.5" ry="6" fill="#2a9a88"/>

<rect x="633" y="941" width="41" height="31" fill="url(#coin)"/>
<g stroke="#60c8e0" stroke-width="0.8" stroke-opacity="0.7">
<line x1="633" y1="947" x2="674" y2="947"/><line x1="633" y1="953" x2="674" y2="953"/><line x1="633" y1="959" x2="674" y2="959"/><line x1="633" y1="965" x2="674" y2="965"/>
</g>
<ellipse cx="653.5" cy="941" rx="20.5" ry="4.5" fill="#2aa090"/>
<ellipse cx="653.5" cy="972" rx="20.5" ry="3" fill="#1e6a78"/>

<rect x="707" y="921" width="41" height="51" fill="url(#coin)"/>
<g stroke="#60d8b0" stroke-width="0.8" stroke-opacity="0.7">
<line x1="707" y1="927" x2="748" y2="927"/><line x1="707" y1="933" x2="748" y2="933"/><line x1="707" y1="939" x2="748" y2="939"/><line x1="707" y1="945" x2="748" y2="945"/>
<line x1="707" y1="951" x2="748" y2="951"/><line x1="707" y1="957" x2="748" y2="957"/><line x1="707" y1="963" x2="748" y2="963"/>
</g>
<ellipse cx="727.5" cy="921" rx="20.5" ry="4.5" fill="#2aa090"/>
<ellipse cx="727.5" cy="972" rx="20.5" ry="3" fill="#1e6a78"/>
</g>

<!-- ===== Woman at desk (left) ===== -->
<g>
<!-- chair -->
<path d="M6,862 Q10,852 30,852 L58,852 L58,938 L8,938 Z" fill="#1e2a48"/>
<path d="M4,862 Q8,850 30,850 L60,850 L60,858 L30,858 Q14,858 12,870 L12,940 L4,940 Z" fill="#3a5aa8"/>
<path d="M40,905 L140,905 L140,935 L40,940 Z" fill="#2e4c98"/>
<g stroke="#1c2440" stroke-width="4">
<line x1="7" y1="935" x2="7" y2="985"/><line x1="47" y1="935" x2="47" y2="985"/>
<line x1="80" y1="935" x2="80" y2="985"/><line x1="118" y1="935" x2="118" y2="985"/>
</g>
<rect x="8" y="930" width="115" height="5" fill="#2a3a6a"/>
<!-- hair -->
<path d="M70,778 L90,777 L98,790 L94,812 L82,822 L62,832 L42,850 L34,846 L48,812 L60,790 Z" fill="#1a1a30"/>
<!-- face/neck -->
<ellipse cx="85" cy="798" rx="9" ry="13" fill="#f5a070"/>
<rect x="76" y="808" width="11" height="14" fill="#f0946a"/>
<!-- jacket -->
<path d="M48,826 Q60,818 100,820 L110,858 L115,880 L45,882 L42,852 Z" fill="#f04e50"/>
<rect x="67" y="820" width="26" height="58" fill="#fafafa"/>
<path d="M96,832 L104,828 L118,866 L110,872 Z" fill="#f04e50"/>
<!-- skirt and legs -->
<path d="M55,885 L145,885 L148,915 L110,920 L58,912 Z" fill="#12121e"/>
<path d="M60,900 L100,898 L105,912 L62,915 Z" fill="#e04848"/>
<path d="M100,905 L112,908 L95,970 L88,970 Z" fill="#f5a070"/>
<path d="M128,912 L140,910 L162,972 L154,974 Z" fill="#f5a070"/>
<path d="M86,966 L96,966 L98,980 L84,982 Z" fill="#e03a40"/>
<rect x="82" y="980" width="18" height="4" fill="#12121e"/>
<rect x="152" y="970" width="10" height="10" fill="#3a6ac0"/>
<rect x="150" y="979" width="24" height="4" fill="#12121e"/>
<!-- desk -->
<path d="M52,876 L175,875 L168,893 L55,888 Z" fill="#3ee2a6"/>
<path d="M117,887 L166,893 L160,985 L148,985 Z" fill="url(#deskl)"/>
<rect x="117" y="887" width="48" height="7" fill="#e8f5f0" opacity="0.8"/>
<line x1="78" y1="890" x2="78" y2="985" stroke="#1c2440" stroke-width="4"/>
<!-- laptop -->
<path d="M120,845 L160,845 L153,876 L113,876 Z" fill="#6a8ed8"/>
<circle cx="137" cy="862" r="3" fill="#f5905a"/>
<rect x="110" y="874" width="68" height="3" fill="#dde6f5"/>
</g>

<!-- ===== Right side: lamps, desk, person ===== -->
<g>
<!-- hanging lamps -->
<path d="M987,673 Q994,690 1005,722 L968,722 Q978,690 987,673 Z" fill="#40e0a0"/>
<ellipse cx="986.5" cy="722" rx="19" ry="9" fill="#f5684a"/>
<path d="M975,747 Q985,760 990,790 L958,790 Q966,760 975,747 Z" fill="#36c8b0"/>
<ellipse cx="974" cy="790" rx="16" ry="5" fill="#e8f0f8"/>
<!-- monitor -->
<rect x="882" y="740" width="63" height="80" fill="#c8d6f2"/>
<rect x="887" y="745" width="53" height="70" fill="#f8f9ff"/>
<rect x="890" y="762" width="23" height="10" fill="#f0b040"/>
<rect x="921" y="754" width="16" height="14" fill="#40d890"/>
<rect x="890" y="776" width="14" height="13" fill="#f04a70"/>
<rect x="913" y="773" width="24" height="17" fill="#e84060"/>
<rect x="890" y="795" width="12" height="13" fill="#2a9ad8"/>
<rect x="905" y="795" width="10" height="13" fill="#30c0c0"/>
<rect x="921" y="790" width="16" height="14" fill="#40d890"/>
<rect x="900" y="820" width="12" height="16" fill="#8aa0c0"/>
<!-- red lamp -->
<path d="M840,750 L873,767 L867,788 L852,789 L845,767 Z" fill="#f05a48"/>
<path d="M853,789 L867,788 L873,767 Z" fill="#f8f8ff"/>
<line x1="842" y1="762" x2="820" y2="792" stroke="#e85040" stroke-width="5"/>
<line x1="820" y1="792" x2="838" y2="836" stroke="#e8ecf8" stroke-width="5"/>
<!-- desk -->
<path d="M804,840 L990,827 L992,853 L887,867 L804,845 Z" fill="#f4f6fb"/>
<path d="M887,866 L992,852 L992,860 L887,873 Z" fill="#1a2038"/>
<path d="M813,846 L887,868 L887,977 L813,953 Z" fill="url(#deskg)"/>
<path d="M887,872 L950,866 L950,973 L887,977 Z" fill="#4a7ccc"/>
<g stroke="#8ab0e8" stroke-width="1.5">
<line x1="915" y1="893" x2="935" y2="891"/><line x1="915" y1="913" x2="935" y2="911"/><line x1="915" y1="934" x2="935" y2="932"/><line x1="915" y1="955" x2="935" y2="953"/>
</g>
<line x1="811" y1="843" x2="811" y2="985" stroke="#1a2038" stroke-width="4"/>
<line x1="885" y1="870" x2="885" y2="985" stroke="#1a2038" stroke-width="4"/>
<ellipse cx="838" cy="843" rx="13" ry="5" fill="#f04a48"/>
<path d="M885,842 L928,832 L932,838 L890,848 Z" fill="#4a7cd8"/>
<path d="M910,850 L940,845 L942,851 L912,856 Z" fill="#6a9ae0"/>
<ellipse cx="945" cy="835" rx="6" ry="3" fill="#f5a080"/>
<!-- person -->
<path d="M980,812 L1024,800 L1024,885 L985,880 L972,850 L950,852 L945,842 L968,836 Z" fill="#181d33"/>
<ellipse cx="1008" cy="808" rx="9" ry="12" fill="#f5a070"/>
<path d="M998,790 Q1008,778 1022,788 L1024,800 L1014,804 L1005,796 L999,800 Z" fill="#141828"/>
<!-- red chair -->
<path d="M935,897 L1000,893 L1010,875 L1024,872 L1024,923 L940,925 Q932,915 935,897 Z" fill="#f04e48"/>
<path d="M1008,858 L1024,852 L1024,925 L1010,925 Z" fill="#f26050"/>
<g stroke="#161a30" stroke-width="6">
<line x1="945" y1="920" x2="950" y2="982"/><line x1="980" y1="920" x2="984" y2="982"/>
</g>
<rect x="935" y="920" width="89" height="5" fill="#2a3a6a"/>
<line x1="1005" y1="925" x2="1005" y2="985" stroke="#2a3a6a" stroke-width="3"/>
<rect x="940" y="980" width="18" height="4" fill="#3a5a9a"/>
<rect x="975" y="980" width="18" height="4" fill="#3a5a9a"/>
</g>
</svg>
</body></html>
